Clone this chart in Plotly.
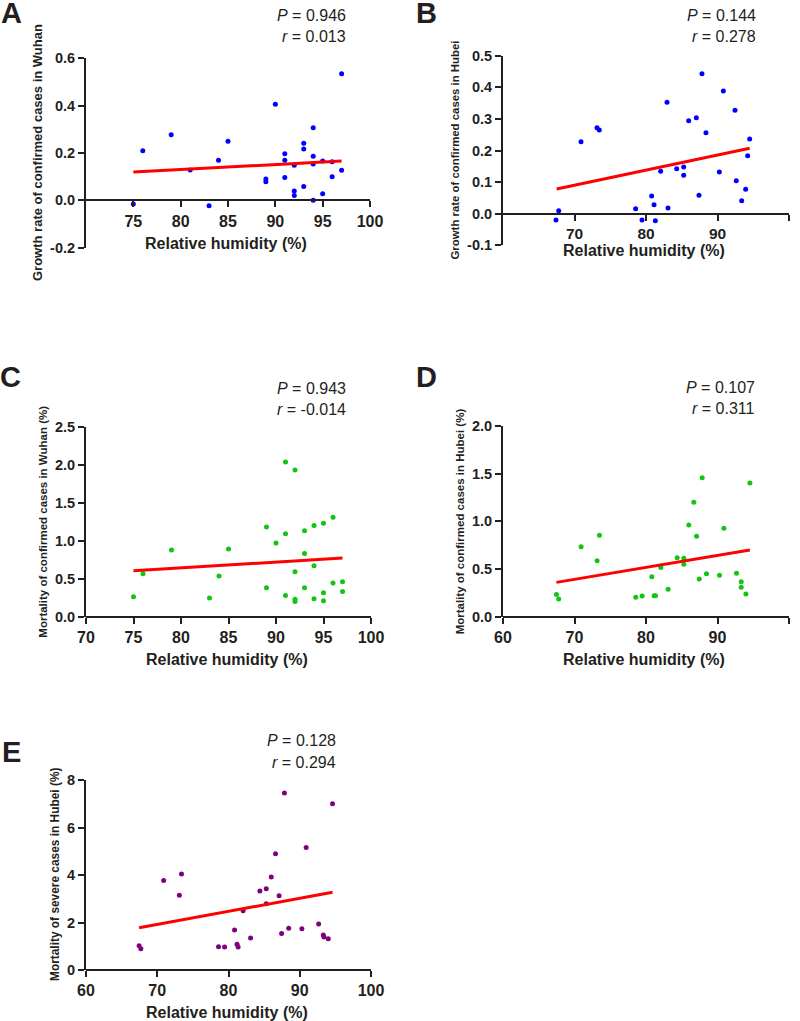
import plotly.graph_objects as go

# Panel A: growth rate of confirmed cases in Wuhan
a_humidity = [75, 76, 79, 81, 83, 84, 85, 89, 89, 90, 91, 91, 91, 92, 92, 92, 93, 93, 93,
              94, 94, 94, 94, 95, 95, 96, 96, 97, 97]
a_growth = [-0.015, 0.21, 0.277, 0.128, -0.023, 0.169, 0.25, 0.09, 0.079, 0.406, 0.197, 0.169,
            0.096, 0.148, 0.039, 0.02, 0.241, 0.217, 0.059, 0.307, 0.186, 0.154, 0.0, 0.166,
            0.028, 0.163, 0.1, 0.535, 0.127]
a_fit_x = [75, 97]
a_fit_y = [0.12, 0.166]

# Panel B: growth rate of confirmed cases in Hubei
b_humidity = [67.41, 67.79, 70.91, 73.15, 73.47, 78.55, 79.44, 80.79, 81.12, 81.31, 82.05,
              82.94, 83.08, 84.29, 85.27, 85.27, 85.97, 87.04, 87.41, 87.83, 88.39, 90.26,
              90.82, 92.45, 92.63, 93.38, 93.94, 94.22, 94.5]
b_growth = [-0.020, 0.0095, 0.228, 0.272, 0.265, 0.016, -0.020, 0.056, 0.028, -0.022, 0.134,
            0.353, 0.018, 0.142, 0.148, 0.122, 0.294, 0.304, 0.058, 0.443, 0.256, 0.132,
            0.388, 0.327, 0.104, 0.041, 0.077, 0.183, 0.236]
b_fit_x = [67.5, 94.5]
b_fit_y = [0.078, 0.207]

# Panel C: mortality of confirmed cases in Wuhan
c_humidity = [75, 76, 79, 83, 84, 85, 89, 89, 90, 91, 91, 91, 92, 92, 92, 92, 93, 93, 93,
              94, 94, 94, 95, 95, 95, 96, 96, 97, 97]
c_mortality = [0.263, 0.566, 0.877, 0.246, 0.535, 0.89, 1.18, 0.38, 0.97, 2.035, 1.09, 0.28,
               1.93, 0.59, 0.23, 0.20, 1.13, 0.83, 0.38, 1.20, 0.67, 0.237, 1.23, 0.316,
               0.21, 1.31, 0.443, 0.46, 0.33]
c_fit_x = [75, 97]
c_fit_y = [0.605, 0.772]

# Panel D: mortality of confirmed cases in Hubei
d_humidity = [67.47, 67.79, 70.92, 73.16, 73.49, 78.57, 79.46, 80.81, 81.14, 81.33, 82.07,
              83.10, 84.36, 85.29, 85.29, 85.99, 86.69, 87.07, 87.44, 87.86, 88.46, 90.28,
              90.89, 92.66, 93.32, 93.32, 93.97, 94.53]
d_mortality = [0.234, 0.185, 0.734, 0.587, 0.853, 0.203, 0.217, 0.42, 0.22, 0.22, 0.517,
               0.287, 0.619, 0.612, 0.549, 0.962, 1.20, 0.843, 0.395, 1.458, 0.451, 0.434,
               0.927, 0.455, 0.367, 0.308, 0.238, 1.402]
d_fit_x = [67.47, 94.53]
d_fit_y = [0.36, 0.70]

# Panel E: mortality of severe cases in Hubei
e_humidity = [67.45, 67.7, 70.9, 73.1, 73.4, 78.6, 79.45, 80.85, 81.2, 81.35, 82.05, 83.1,
              84.4, 85.3, 85.3, 86.0, 86.6, 87.1, 87.45, 87.85, 88.45, 90.3, 90.9, 92.65,
              93.3, 93.4, 94.0, 94.6]
e_mortality = [1.02, 0.90, 3.77, 3.15, 4.04, 0.98, 0.97, 1.68, 1.08, 0.97, 2.50, 1.35, 3.33,
               3.42, 2.79, 3.92, 4.90, 3.13, 1.54, 7.45, 1.76, 1.74, 5.16, 1.94, 1.47, 1.39,
               1.32, 7.0]
e_fit_x = [67.45, 94.6]
e_fit_y = [1.78, 3.27]

W, H = 800, 1021
FONT = "Liberation Sans, Arial, sans-serif"
INK = "#231f20"


def px(x):
    return x / W


def py(y):
    return 1 - y / H


panels = [
    # box = pixel box of the axes (left, right, top, bottom); other positions in pixels too
    dict(letter="A", x=a_humidity, y=a_growth, fx=a_fit_x, fy=a_fit_y, color="#0000ff",
         P="0.946", r="0.013", ytitle="Growth rate of confirmed cases in Wuhan", yts=13,
         xr=[70, 100], xt=[75, 80, 85, 90, 95, 100], xts=16,
         yr=[-0.2, 0.6], yt=[-0.2, 0.0, 0.2, 0.4, 0.6], fmt="{:.1f}",
         box=(86, 370, 58.3, 247.7), lpos=(11, 13), srx=348, sry=15, ytx=38, xty=244),
    dict(letter="B", x=b_humidity, y=b_growth, fx=b_fit_x, fy=b_fit_y, color="#0000ff",
         P="0.144", r="0.278", ytitle="Growth rate of confirmed cases in Hubei", yts=11.4,
         xr=[60, 100], xt=[70, 80, 90, 100], xts=15.5,
         yr=[-0.1, 0.5], yt=[-0.1, 0.0, 0.1, 0.2, 0.3, 0.4, 0.5], fmt="{:.1f}",
         box=(503, 789, 55.7, 245.3), lpos=(426, 13), srx=758, sry=15, ytx=455, xty=250),
    dict(letter="C", x=c_humidity, y=c_mortality, fx=c_fit_x, fy=c_fit_y, color="#11c511",
         P="0.943", r="-0.014", ytitle="Mortality of confirmed cases in Wuhan (%)", yts=11.5,
         xr=[70, 100], xt=[70, 75, 80, 85, 90, 95, 100], xts=16,
         yr=[0, 2.5], yt=[0.0, 0.5, 1.0, 1.5, 2.0, 2.5], fmt="{:.1f}",
         box=(86, 371, 426.7, 616.7), lpos=(10, 377), srx=348, sry=388, ytx=43, xty=659),
    dict(letter="D", x=d_humidity, y=d_mortality, fx=d_fit_x, fy=d_fit_y, color="#11c511",
         P="0.107", r="0.311", ytitle="Mortality of confirmed cases in Hubei (%)", yts=11.5,
         xr=[60, 100], xt=[60, 70, 80, 90, 100], xts=16,
         yr=[0, 2.0], yt=[0.0, 0.5, 1.0, 1.5, 2.0], fmt="{:.1f}",
         box=(503, 789, 426, 616.7), lpos=(426, 377), srx=757, sry=387, ytx=460, xty=659),
    dict(letter="E", x=e_humidity, y=e_mortality, fx=e_fit_x, fy=e_fit_y, color="#800080",
         P="0.128", r="0.294", ytitle="Mortality of severe cases in Hubei (%)", yts=11.9,
         xr=[60, 100], xt=[60, 70, 80, 90, 100], xts=16,
         yr=[0, 8], yt=[0, 2, 4, 6, 8], fmt="{:.0f}",
         box=(86, 371, 780, 970), lpos=(11, 752), srx=338, sry=740, ytx=55, xty=1012),
]

fig = go.Figure()
annotations = []
layout = {}

for i, p in enumerate(panels, start=1):
    xa = "x" if i == 1 else f"x{i}"
    ya = "y" if i == 1 else f"y{i}"
    left, right, top, bottom = p["box"]

    fig.add_trace(go.Scatter(x=p["x"], y=p["y"], mode="markers", xaxis=xa, yaxis=ya,
                             marker=dict(size=5, color=p["color"]), showlegend=False))
    fig.add_trace(go.Scatter(x=p["fx"], y=p["fy"], mode="lines", xaxis=xa, yaxis=ya,
                             line=dict(color="#ff0000", width=3), showlegend=False))

    # the x axis sits on y = 0
    y0, y1 = p["yr"]
    zero_px = bottom - (0 - y0) / (y1 - y0) * (bottom - top)

    layout[f"xaxis{i}" if i > 1 else "xaxis"] = dict(
        domain=[px(left), px(right)], range=p["xr"], anchor="free", position=py(zero_px),
        tickvals=p["xt"], ticktext=[str(v) for v in p["xt"]],
        showgrid=False, zeroline=False, showline=True, linecolor=INK, linewidth=2,
        ticks="outside", ticklen=6, tickwidth=2, tickcolor=INK,
        tickfont=dict(family=FONT, size=p["xts"], color=INK, weight="bold"),
        automargin=False, fixedrange=True,
    )
    layout[f"yaxis{i}" if i > 1 else "yaxis"] = dict(
        domain=[py(bottom), py(top)], range=p["yr"], anchor=xa,
        tickvals=p["yt"], ticktext=[p["fmt"].format(v) for v in p["yt"]],
        showgrid=False, zeroline=False, showline=True, linecolor=INK, linewidth=2,
        ticks="outside", ticklen=6, tickwidth=2, tickcolor=INK,
        tickfont=dict(family=FONT, size=14.5, color=INK, weight="bold"),
        automargin=False, fixedrange=True,
    )

    # panel letter
    annotations.append(dict(text=f"<b>{p['letter']}</b>", x=px(p["lpos"][0]), y=py(p["lpos"][1]),
                            xref="paper", yref="paper", xanchor="center", yanchor="middle",
                            showarrow=False, font=dict(family=FONT, size=29, color=INK)))
    # statistics
    annotations.append(dict(text=f"<i>P</i> = {p['P']}", x=px(p["srx"]), y=py(p["sry"]),
                            xref="paper", yref="paper", xanchor="right", yanchor="middle",
                            showarrow=False, font=dict(family=FONT, size=16, color=INK)))
    annotations.append(dict(text=f"<i>r</i> = {p['r']}", x=px(p["srx"]), y=py(p["sry"] + 22),
                            xref="paper", yref="paper", xanchor="right", yanchor="middle",
                            showarrow=False, font=dict(family=FONT, size=16, color=INK)))
    # axis titles
    annotations.append(dict(text=f"<b>{p['ytitle']}</b>", x=px(p["ytx"]),
                            y=py((top + bottom) / 2), xref="paper", yref="paper",
                            xanchor="center", yanchor="middle", textangle=-90,
                            showarrow=False, font=dict(family=FONT, size=p["yts"], color=INK)))
    annotations.append(dict(text="<b>Relative humidity (%)</b>", x=px((left + right) / 2 - 2),
                            y=py(p["xty"]), xref="paper", yref="paper",
                            xanchor="center", yanchor="middle",
                            showarrow=False, font=dict(family=FONT, size=16, color=INK)))

fig.update_layout(
    width=W, height=H,
    margin=dict(l=0, r=0, t=0, b=0),
    paper_bgcolor="white", plot_bgcolor="white",
    annotations=annotations,
    **layout,
)

# the page body has a default 8px margin; drop it so the figure fills the window
fig.write_html("out.html", config={"displayModeBar": False},
               post_script="document.body.style.margin='0';document.body.style.overflow='hidden';")
